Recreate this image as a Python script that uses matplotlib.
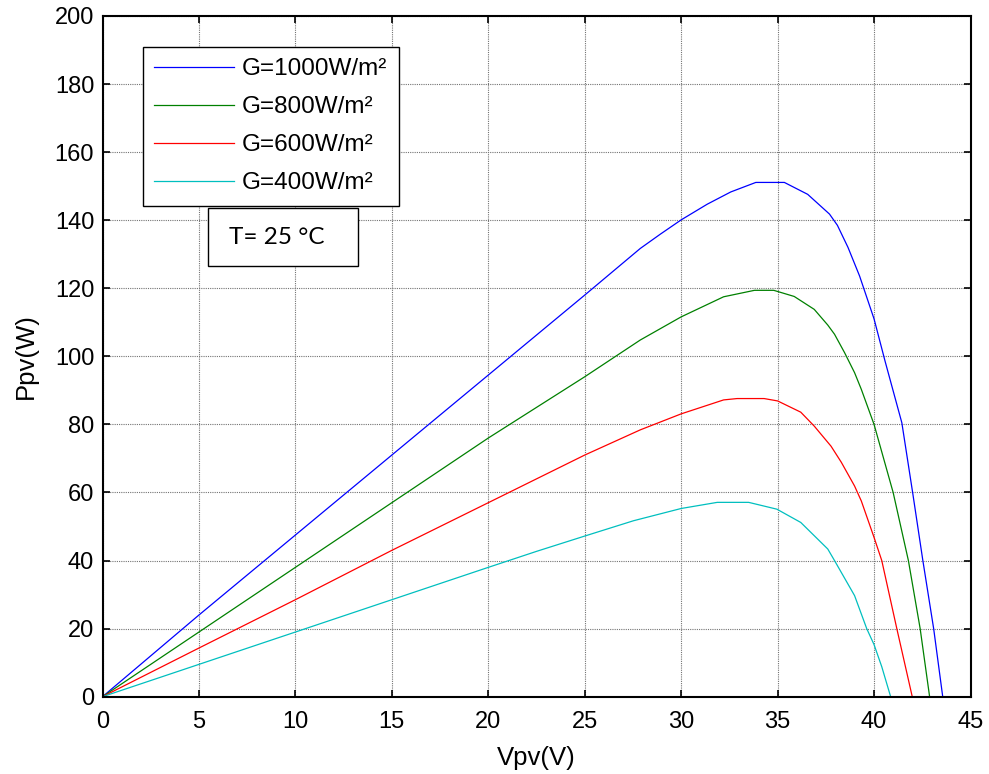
import matplotlib
matplotlib.use("Agg")
import matplotlib.pyplot as plt
import matplotlib.patches as patches

# --- data (Vpv in V, Ppv in W) ---
V_1000 = [0, 5, 10, 15, 20, 25, 27.88, 28.92, 30, 31.35, 32.57, 33.87, 35.35, 36.56,
          37.69, 38.1, 38.65, 39.25, 40, 40.57, 41.44, 42.0, 42.53, 43.09, 43.56]
P_1000 = [0, 24, 47.5, 71, 94.5, 118, 131.7, 135.9, 140.1, 144.7, 148.3, 151.1, 151.1,
          147.6, 141.8, 138.5, 132, 123.6, 111, 98.6, 80.5, 60, 40, 20, 0]

V_800 = [0, 5, 10, 15, 20, 25, 27.88, 30, 32.2, 33.8, 34.8, 35.86, 36.9, 37.6, 37.95,
         38.47, 38.99, 39.34, 40, 40.99, 41.78, 42.39, 42.88]
P_800 = [0, 19, 38, 57, 76, 94, 104.8, 111.6, 117.5, 119.4, 119.4, 117.6, 113.8, 109.2,
         106.5, 101.1, 95.2, 90.3, 80, 60, 40, 20, 0]

V_600 = [0, 5, 10, 15, 20, 25, 27.88, 30, 32.2, 32.9, 34.3, 35, 36.2, 36.9, 37.77,
         38.3, 38.99, 39.34, 40, 40.4, 41.18, 41.98]
P_600 = [0, 14.3, 28.5, 43, 57, 71, 78.4, 83.1, 87.2, 87.6, 87.6, 86.9, 83.6, 79.5,
         73.6, 68.9, 61.9, 57.5, 46.8, 40, 20, 0]

V_400 = [0, 5, 10, 15, 20, 22.5, 25, 27.53, 30, 31.87, 33.5, 34.96, 36.2, 37.6, 37.95,
         38.99, 39.62, 40, 40.4, 40.86]
P_400 = [0, 9.5, 19, 28.5, 38, 42.7, 47.2, 51.7, 55.3, 57.1, 57.1, 55.1, 51.2, 43.4, 40,
         29.7, 20, 15.3, 8.8, 0]

labels = ["G=1000W/m²", "G=800W/m²", "G=600W/m²", "G=400W/m²"]
colors = ["#0000ff", "#008000", "#ff0000", "#00bfbf"]
x_ticks = list(range(0, 46, 5))
y_ticks = list(range(0, 201, 20))

plt.rcParams['font.family'] = ['Liberation Sans', 'DejaVu Sans']

W, H = 989, 774
fig = plt.figure(figsize=(W / 100, H / 100), dpi=100)
ax = fig.add_axes([102.5 / W, 1 - 696.7 / H, (970.5 - 102.5) / W, (696.7 - 16) / H])

series = [(V_1000, P_1000), (V_800, P_800), (V_600, P_600), (V_400, P_400)]
for (v, p), lab, col in zip(series, labels, colors):
    ax.plot(v, p, color=col, linewidth=0.9, label=lab)

ax.set_xlim(0, 45)
ax.set_ylim(0, 200)
ax.set_xticks(x_ticks)
ax.set_yticks(y_ticks)
ax.grid(True, color='0.45', linestyle=(0, (1, 1)), linewidth=0.8)
ax.tick_params(direction='in', length=5, width=1.2, top=True, right=True,
               labelsize=17, pad=6)
ax.tick_params(axis='x', pad=10)
for s in ax.spines.values():
    s.set_linewidth(1.5)

ax.set_xlabel("Vpv(V)", fontsize=18.5, labelpad=10)
ax.set_ylabel("Ppv(W)", fontsize=18.5, labelpad=12)

leg = ax.legend(loc='upper left', bbox_to_anchor=(143 / W, 1 - 47 / H),
                bbox_transform=fig.transFigure, fontsize=17.5, frameon=True,
                fancybox=False, edgecolor='black', framealpha=1, borderaxespad=0,
                handlelength=3.3, handletextpad=0.32, labelspacing=0.66,
                borderpad=0.46)
leg.get_frame().set_linewidth(1.0)

# temperature annotation box
tbox = patches.Rectangle((208 / W, 1 - 266 / H), 150 / W, 58 / H,
                         transform=fig.transFigure, facecolor='white',
                         edgecolor='black', linewidth=1.0, zorder=5)
fig.patches.append(tbox)
fig.text(276.5 / W, 1 - 237 / H, "T= 25 °C", fontsize=17.5, ha='center', va='center',
         family=['Lato', 'DejaVu Sans'], zorder=6)

fig.savefig("out.png", dpi=100)
